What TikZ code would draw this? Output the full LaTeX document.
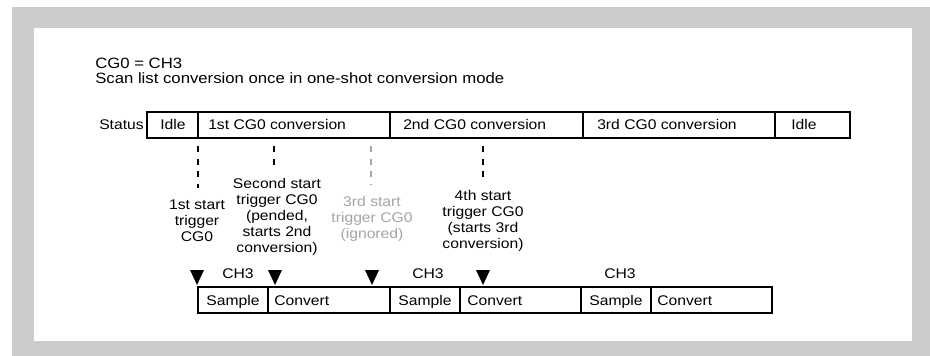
\documentclass[tikz,border=0pt]{standalone}
\usepackage{fontspec}
\setmainfont{Liberation Sans}[FakeStretch=1.12]
\usetikzlibrary{positioning}
\definecolor{framegray}{RGB}{204,204,204}
\definecolor{ignoredgray}{RGB}{165,165,165}

\begin{document}
\begin{tikzpicture}[x=0.75pt, y=-0.75pt,
  font=\fontsize{10.5}{12}\selectfont,
  box/.style={draw, line width=0.9pt},
  segtext/.style={anchor=base west, inner sep=0pt},
  midtext/.style={anchor=base, inner sep=0pt},
  headtext/.style={segtext, font=\fontsize{11.2}{12}\selectfont},
  trigline/.style={line width=1.5pt, dash pattern=on 4.5pt off 4.9pt, shorten >=9pt},
  startlabel/.style={anchor=north, align=center, inner sep=0pt}]

  % Frame
  \useasboundingbox (0,0) rectangle (930,356);
  \fill[framegray] (12,7) rectangle (930,356);
  \fill[white] (34,28) rectangle (912,341);

  % Heading
  \node[headtext] (heading) at (95,69) {CG0 = CH3};
  \node[headtext] (mode) at (95,83.3) {Scan list conversion once in one-shot conversion mode};

  % Status bar
  \node[anchor=base east, inner sep=0pt] (status) at (144,130) {Status};
  \draw[box] (147,112) rectangle (850,138);
  \foreach \x in {198,390,583,775}
    \draw[box] (\x,112) -- (\x,138);
  \node[midtext] (idleA) at (173,130) {Idle};
  \node[segtext] (convA) at (208,130) {1st CG0 conversion};
  \node[segtext] (convB) at (403,130) {2nd CG0 conversion};
  \node[segtext] (convC) at (597,130) {3rd CG0 conversion};
  \node[segtext] (idleB) at (791,130) {Idle};

  % Start triggers
  \coordinate (trigA) at (198,146);
  \coordinate (trigB) at (274,146);
  \coordinate (trigC) at (371,146);
  \coordinate (trigD) at (483,146);
  \node[startlabel] (startA) at (197,200) {1st start\\trigger\\CG0};
  \node[startlabel] (startB) at (277,178) {Second start\\trigger CG0\\(pended,\\starts 2nd\\conversion)};
  \node[startlabel, ignoredgray] (startC) at (372,196) {3rd start\\trigger CG0\\(ignored)};
  \node[startlabel] (startD) at (483,190) {4th start\\trigger CG0\\(starts 3rd\\conversion)};
  \draw[trigline] (trigA) -- (trigA |- startA.north);
  \draw[trigline] (trigB) -- (trigB |- startB.north);
  \draw[trigline, ignoredgray] (trigC) -- (trigC |- startC.north);
  \draw[trigline] (trigD) -- (trigD |- startD.north);

  % Trigger markers
  \foreach \x in {197,275,372,483}
    \fill ({\x-7},270) -- ({\x+7},270) -- (\x,285) -- cycle;

  % Sample and convert phases
  \draw[box] (198,287) rectangle (772,313);
  \foreach \x in {268,390,460,581,651}
    \draw[box] (\x,287) -- (\x,313);
  \node[midtext] (chA) at (238,278) {CH3};
  \node[midtext] (chB) at (428,278) {CH3};
  \node[midtext] (chC) at (620,278) {CH3};
  \node[midtext] (sampleA) at (233,305) {Sample};
  \node[midtext] (sampleB) at (425,305) {Sample};
  \node[midtext] (sampleC) at (616,305) {Sample};
  \node[segtext] (convertA) at (274,305) {Convert};
  \node[segtext] (convertB) at (467,305) {Convert};
  \node[segtext] (convertC) at (657,305) {Convert};
\end{tikzpicture}
\end{document}
